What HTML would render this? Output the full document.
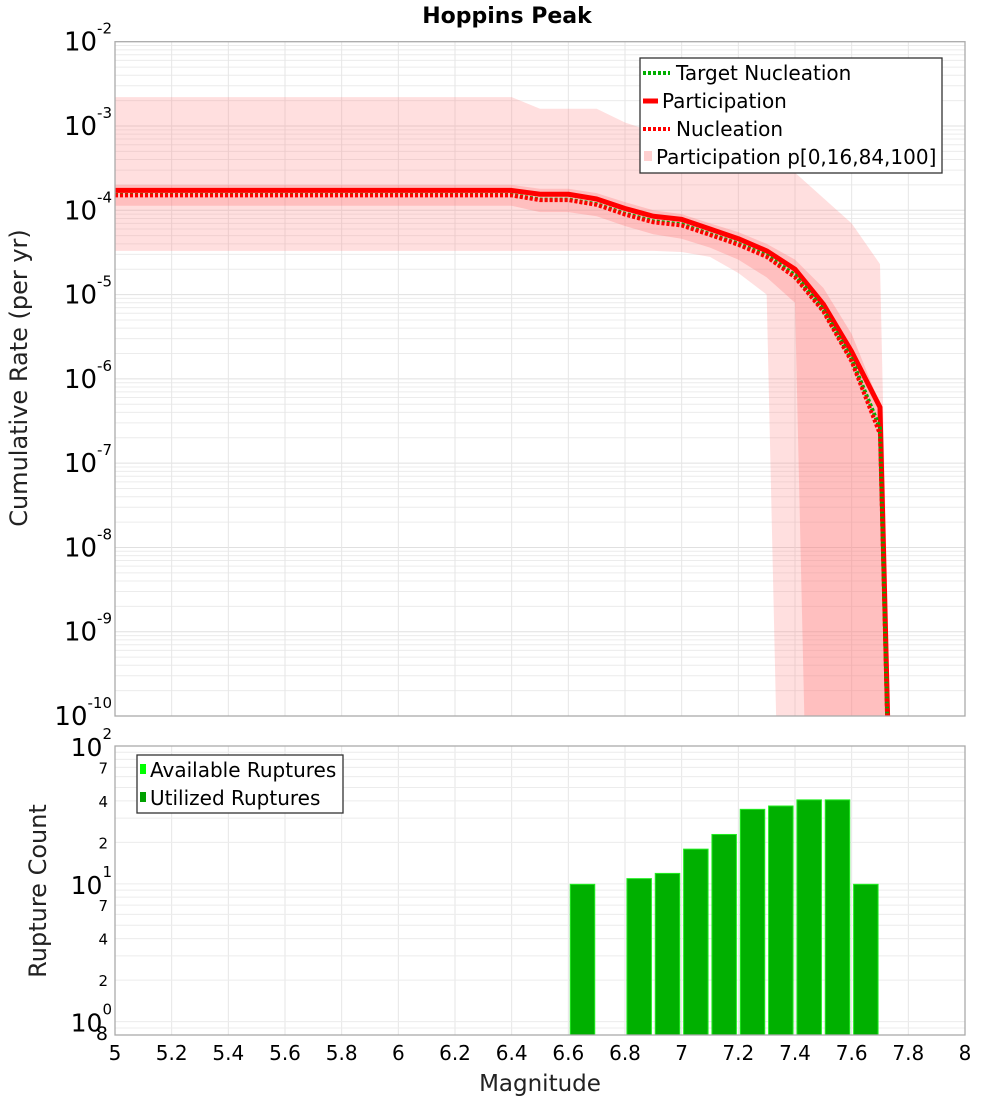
<!DOCTYPE html>
<html><head><meta charset="utf-8"><style>
html,body{margin:0;padding:0;background:#fff;overflow:hidden;width:1000px;height:1100px;font-family:"Liberation Sans","DejaVu Sans",sans-serif}
svg{display:block}
svg text{font-family:"DejaVu Sans","Liberation Sans",sans-serif}
</style></head><body>
<svg id="c" width="1000" height="1100" xmlns="http://www.w3.org/2000/svg">
<defs>
<clipPath id="clipTop"><rect x="115" y="41.7" width="850" height="674.3"/></clipPath>
<clipPath id="clipBot"><rect x="115" y="746" width="850" height="289"/></clipPath>
</defs>
<rect width="1000" height="1100" fill="#fff"/>
<g id="topGrid"></g><g id="topMarks" clip-path="url(#clipTop)"></g>
<g id="botGrid"></g><g id="botMarks" clip-path="url(#clipBot)"></g>
<g id="axes"></g>
<text x="507" y="23" text-anchor="middle" font-size="22" font-weight="bold">Hoppins Peak</text>
<text transform="translate(27,378) rotate(-90)" text-anchor="middle" font-size="24" fill="#222">Cumulative Rate (per yr)</text>
<text transform="translate(46,891) rotate(-90)" text-anchor="middle" font-size="24" fill="#222">Rupture Count</text>
<text x="540" y="1091" text-anchor="middle" font-size="23" fill="#222">Magnitude</text>
<g>
<rect x="640" y="58" width="302" height="115" fill="#fff" stroke="#333" stroke-width="1.3"/>
<line x1="643" y1="73" x2="670" y2="73" stroke="#00b000" stroke-width="4" stroke-dasharray="3,2"/>
<text x="676" y="80" font-size="20">Target Nucleation</text>
<line x1="643" y1="101" x2="658" y2="101" stroke="#ff0000" stroke-width="5"/>
<text x="662" y="108" font-size="20">Participation</text>
<line x1="643" y1="129" x2="670" y2="129" stroke="#ff0000" stroke-width="4" stroke-dasharray="3,2"/>
<text x="676" y="136" font-size="20">Nucleation</text>
<rect x="644" y="151" width="8" height="10" fill="#ffd0d0"/>
<text x="656" y="164" font-size="20">Participation p[0,16,84,100]</text>
</g>
<g>
<rect x="137" y="755" width="206" height="58" fill="#fff" stroke="#333" stroke-width="1.3"/>
<rect x="140" y="764" width="6" height="10" fill="#00ff00"/>
<text x="150" y="777" font-size="20">Available Ruptures</text>
<rect x="140" y="792" width="6" height="10" fill="#00a000"/>
<text x="150" y="805" font-size="20">Utilized Ruptures</text>
</g>
</svg>
<script>
const mags=[5.0,5.1,5.2,5.3,5.4,5.5,5.6,5.7,5.8,5.9,6.0,6.1,6.2,6.3,6.4,6.5,6.6,6.7,6.8,6.9,7.0,7.1,7.2,7.3,7.4,7.5,7.6,7.7,7.8];
const partRate=[1.72e-4,1.72e-4,1.72e-4,1.72e-4,1.72e-4,1.72e-4,1.72e-4,1.72e-4,1.72e-4,1.72e-4,1.72e-4,1.72e-4,1.72e-4,1.72e-4,1.72e-4,1.55e-4,1.55e-4,1.36e-4,1.05e-4,8.5e-5,7.8e-5,6.0e-5,4.6e-5,3.3e-5,2.0e-5,7.7e-6,2.1e-6,4.6e-7,1e-20];
const nuclRate=[1.5e-4,1.5e-4,1.5e-4,1.5e-4,1.5e-4,1.5e-4,1.5e-4,1.5e-4,1.5e-4,1.5e-4,1.5e-4,1.5e-4,1.5e-4,1.5e-4,1.5e-4,1.32e-4,1.32e-4,1.16e-4,8.9e-5,7.2e-5,6.6e-5,5.1e-5,3.9e-5,2.8e-5,1.6e-5,6.3e-6,1.6e-6,2.2e-7,1e-20];
const targetRate=[1.52e-4,1.52e-4,1.52e-4,1.52e-4,1.52e-4,1.52e-4,1.52e-4,1.52e-4,1.52e-4,1.52e-4,1.52e-4,1.52e-4,1.52e-4,1.52e-4,1.52e-4,1.34e-4,1.34e-4,1.18e-4,9.1e-5,7.4e-5,6.8e-5,5.2e-5,4.0e-5,2.9e-5,1.7e-5,6.6e-6,1.7e-6,2.6e-7,1e-20];
const p100=[2.2e-3,2.2e-3,2.2e-3,2.2e-3,2.2e-3,2.2e-3,2.2e-3,2.2e-3,2.2e-3,2.2e-3,2.2e-3,2.2e-3,2.2e-3,2.2e-3,2.2e-3,1.6e-3,1.6e-3,1.6e-3,1.1e-3,8.5e-4,7e-4,6e-4,5e-4,4e-4,2.8e-4,1.4e-4,7e-5,2.3e-5,1e-20];
const p84=[2.0e-4,2.0e-4,2.0e-4,2.0e-4,2.0e-4,2.0e-4,2.0e-4,2.0e-4,2.0e-4,2.0e-4,2.0e-4,2.0e-4,2.0e-4,2.0e-4,2.0e-4,1.8e-4,1.8e-4,1.6e-4,1.25e-4,1.0e-4,9e-5,7e-5,5.5e-5,4e-5,2.6e-5,1.2e-5,3.4e-6,5e-7,1e-20];
const p16=[1.13e-4,1.13e-4,1.13e-4,1.13e-4,1.13e-4,1.13e-4,1.13e-4,1.13e-4,1.13e-4,1.13e-4,1.13e-4,1.13e-4,1.13e-4,1.13e-4,1.13e-4,9.5e-5,9.5e-5,8.5e-5,6.5e-5,5.2e-5,4.6e-5,3.6e-5,2.6e-5,1.6e-5,8e-6,1e-20,1e-20,1e-20,1e-20];
const p0=[3.3e-5,3.3e-5,3.3e-5,3.3e-5,3.3e-5,3.3e-5,3.3e-5,3.3e-5,3.3e-5,3.3e-5,3.3e-5,3.3e-5,3.3e-5,3.3e-5,3.3e-5,3.3e-5,3.3e-5,3.3e-5,3.3e-5,3.3e-5,3.2e-5,2.8e-5,1.8e-5,1e-5,1e-20,1e-20,1e-20,1e-20,1e-20];
const barMags=[6.6,6.8,6.9,7.0,7.1,7.2,7.3,7.4,7.5,7.6];
const barCounts=[10,11,12,18,23,35,37,41,41,10];
const xTicks=["5","5.2","5.4","5.6","5.8","6","6.2","6.4","6.6","6.8","7","7.2","7.4","7.6","7.8","8"];
const topDecades=[-2,-3,-4,-5,-6,-7,-8,-9,-10];
const botMinorLabels=["7","4","2"];

const NS="http://www.w3.org/2000/svg";
function el(tag,attrs,parent){const e=document.createElementNS(NS,tag);for(const k in attrs)e.setAttribute(k,attrs[k]);parent.appendChild(e);return e;}
const X=m=>115+(m-5)*(850/3);
const YT=v=>{let l=Math.log10(Math.max(v,1e-30));l=Math.max(l,-30);return 41.7+(-2-l)*84.29;};
const YB=v=>746+(2-Math.log10(v))*(289/(2-Math.log10(0.8)));

const tg=document.getElementById('topGrid'),tm=document.getElementById('topMarks'),
bg=document.getElementById('botGrid'),bm=document.getElementById('botMarks'),ax=document.getElementById('axes');
for(let d=-10;d<-2;d++){for(let k=1;k<10;k++){const y=YT(k*Math.pow(10,d));
const ln=el('line',{x1:115,x2:965,y1:y,y2:y,stroke:k==1?'#e0e0e0':'#ececec','stroke-width':1},tg);

}}
xTicks.forEach((t,i)=>{const x=X(+t);
const l1=el('line',{x1:x,x2:x,y1:41.7,y2:716,stroke:'#e6e6e6'},tg);


const l2=el('line',{x1:x,x2:x,y1:746,y2:1035,stroke:'#e6e6e6'},bg);


const tx=el('text',{x:x,y:1060,'text-anchor':'middle','font-size':20},ax);tx.textContent=t;

});
[0.8,0.9,1,2,3,4,5,6,7,8,9,10,20,30,40,50,60,70,80,90,100].forEach(v=>{const y=YB(v);
const ln=el('line',{x1:115,x2:965,y1:y,y2:y,stroke:'#ececec'},bg);

});
function band(up,lo,fill,name){let d='';mags.forEach((m,i)=>{d+=(i?'L':'M')+X(m)+','+YT(up[i]);});
for(let i=mags.length-1;i>=0;i--)d+='L'+X(mags[i])+','+YT(lo[i]);d+='Z';
const p=el('path',{d:d,fill:fill},tm);

}
band(p100,p0,'rgba(255,120,120,0.24)','band-p0-p100');
band(p84,p16,'rgba(255,120,120,0.30)','band-p16-p84');
function line(vals,stroke,w,dash,name){const d=mags.map((m,i)=>(i?'L':'M')+X(m)+','+YT(vals[i])).join('');
const a={d:d,fill:'none',stroke:stroke,'stroke-width':w,'stroke-linejoin':'round'};if(dash)a['stroke-dasharray']=dash;
const p=el('path',a,tm);

}
line(partRate,'#ff0000',5,null,'participation-line');
line(targetRate,'#00b000',4,'3,2','target-nucleation-line');
line(nuclRate,'#ff0000',4,'3,2','nucleation-line');
barMags.forEach((m,i)=>{const x=X(m+0.005),w=X(m+0.095)-x,y=YB(barCounts[i]);
const a=el('rect',{x:x,y:y,width:w,height:1035-y,fill:'#22ee22'},bm);


const b=el('rect',{x:x+1,y:y+1,width:w-2,height:1035-y,fill:'#00b000'},bm);

});
[[41.7,716],[746,1035]].forEach(([t,b])=>{const r=el('rect',{x:115,y:t,width:850,height:b-t,fill:'none',stroke:'#aaa','stroke-width':1.3},ax);

});
topDecades.forEach(d=>{const y=YT(Math.pow(10,d));
const t=el('text',{x:112,y:y+9,'text-anchor':'end','font-size':26},ax);


const s1=el('tspan',{},t);s1.textContent='10';
const s2=el('tspan',{dy:-17,'font-size':15},t);s2.textContent=String(d);});
[2,1,0].forEach(d=>{const y=YB(Math.pow(10,d));
const t=el('text',{x:112,y:y+10,'text-anchor':'end','font-size':25},ax);


const s1=el('tspan',{},t);s1.textContent='10';
const s2=el('tspan',{dy:-17,'font-size':15},t);s2.textContent=String(d);});
[1,0].forEach(d=>{botMinorLabels.forEach(lab=>{const y=YB(+lab*Math.pow(10,d));
const t=el('text',{x:108,y:y+6,'text-anchor':'end','font-size':15},ax);t.textContent=lab;

});});
const t8=el('text',{x:108,y:YB(0.8)+5,'text-anchor':'end','font-size':19},ax);t8.textContent='8';


</script>
</body></html>
